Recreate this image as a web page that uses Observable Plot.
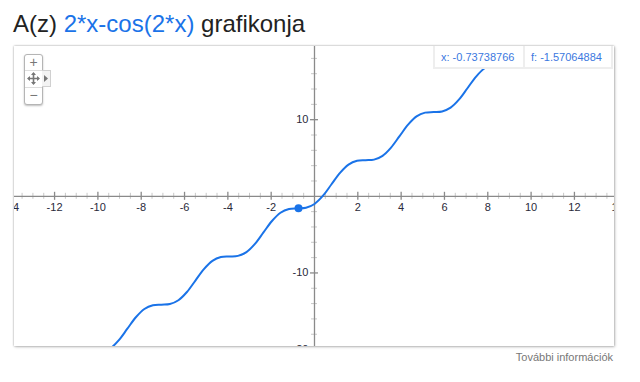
<!DOCTYPE html>
<html><head><meta charset="utf-8">
<script src="https://cdn.jsdelivr.net/npm/d3@7"></script>
<script src="https://cdn.jsdelivr.net/npm/@observablehq/plot@0.6"></script>
<style>
body{margin:0;background:#fff;font-family:Arial,"Liberation Sans",sans-serif;}
#wrap{position:relative;width:640px;height:382px;overflow:hidden;background:#fff;}
#title{position:absolute;left:13px;top:12px;font-size:24px;line-height:24px;color:#222;white-space:nowrap;}
#title .f{color:#1a73e8;}
#card{position:absolute;left:14px;top:46px;width:600px;height:300px;overflow:hidden;background:#fff;
  box-shadow:0 0 2px rgba(0,0,0,0.35),1px 1px 3px rgba(0,0,0,0.2);}
#card svg{display:block;overflow:hidden;}
#zc{position:absolute;left:10px;top:8px;width:17px;height:49px;border:1px solid #b5b5b5;border-radius:3px;background:#fff;box-shadow:0 1px 2px rgba(0,0,0,0.25);}
#zc .b{position:absolute;left:0;width:17px;text-align:center;color:#777;font-size:14px;line-height:15px;}
#zarrow{position:absolute;left:28px;top:24px;width:8px;height:15px;border:1px solid #d0d0d0;border-left:none;background:#f3f3f3;}
#tip{position:absolute;left:419px;top:0px;width:176px;height:21px;border:2px solid #eeeeee;border-top:none;background:#fff;font-size:11px;color:#3b78e0;line-height:22px;}
#tip .c{position:absolute;top:0;height:22px;white-space:nowrap;}
#more{position:absolute;right:27px;top:351px;font-size:11px;color:#777;white-space:nowrap;}
</style>
</head><body>
<div id="wrap">
  <div id="title">A(z) <span class="f">2*x-cos(2*x)</span> grafikonja</div>
  <div id="card"></div>
  <div id="more">További információk</div>
</div>
<script>
// sampled points of the plotted curve (x, f)
const xs = [-9.817,-9.425,-9.032,-8.639,-8.247,-7.854,-7.461,-7.069,-6.676,-6.283,
  -5.890,-5.498,-5.105,-4.712,-4.320,-3.927,-3.534,-3.142,-2.749,-2.356,
  -1.963,-1.571,-1.178,-0.785,-0.393,0,0.393,0.785,1.178,1.571,
  1.963,2.356,2.749,3.142,3.534,3.927,4.320,4.712,5.105,5.498,
  5.890,6.283,6.676,7.069,7.461,7.854,8.247,8.639,9.032,9.425,9.817,10.210];
const ys = [-20.342,-19.850,-18.771,-17.279,-15.786,-14.708,-14.216,-14.137,-14.059,-13.566,
  -12.488,-10.996,-9.503,-8.425,-7.932,-7.854,-7.776,-7.283,-6.205,-4.712,
  -3.220,-2.142,-1.649,-1.571,-1.493,-1.000,0.078,1.571,3.063,4.142,
  4.634,4.712,4.791,5.283,6.362,7.854,9.346,10.425,10.917,10.996,
  11.074,11.566,12.645,14.137,15.630,16.708,17.200,17.279,17.357,17.850,18.928,20.420];
// highlighted cursor point
const cursorX = [-0.73738766];
const cursorF = [-1.57064884];
// axis ticks
const xLabels = [-14,-12,-10,-8,-6,-4,-2,2,4,6,8,10,12,14];
const xMajor = [-14,-12,-10,-8,-6,-4,-2,2,4,6,8,10,12,14];
const xMinor = d3.range(-13.5, 14, 0.5).filter(v => v % 2 !== 0);
const yLabels = [-20,-10,10];
const yMajor = [-20,-10,10,20];
const yMinor = [-18,-16,-14,-12,-8,-6,-4,-2,2,4,6,8,12,14,16,18];

const curve = xs.map((x, i) => ({x, y: ys[i]}));
const cursor = cursorX.map((x, i) => ({x, y: cursorF[i]}));

const axisColor = "#8a8a8a";
const chart = Plot.plot({
  width: 600,
  height: 300,
  margin: 0,
  x: {domain: [-13.85, 13.85], axis: null},
  y: {domain: [-19.6, 19.55], axis: null},
  style: {background: "white", fontFamily: "Arial, 'Liberation Sans', sans-serif", overflow: "hidden"},
  marks: [
    Plot.ruleX(xMinor, {x: d => d, y1: 0, y2: 0, insetTop: -3, insetBottom: -3, stroke: "#c8c8c8", strokeWidth: 1}),
    Plot.ruleY(yMinor, {y: d => d, x1: 0, x2: 0, insetLeft: -3, insetRight: -3, stroke: "#c8c8c8", strokeWidth: 1}),
    Plot.ruleY([0], {stroke: axisColor, strokeWidth: 1.3}),
    Plot.ruleX([0], {stroke: axisColor, strokeWidth: 1.3}),
    Plot.ruleX(xMajor, {x: d => d, y1: 0, y2: 0, insetTop: -4, insetBottom: -4, stroke: axisColor, strokeWidth: 1.3}),
    Plot.ruleY(yMajor, {y: d => d, x1: 0, x2: 0, insetLeft: -4, insetRight: -4, stroke: axisColor, strokeWidth: 1.3}),
    Plot.text(xLabels, {x: d => d, y: 0, text: d => String(d), dy: 11, fontSize: 11, fill: "#2a2a3a", textAnchor: "middle", lineAnchor: "middle"}),
    Plot.text(yLabels, {x: 0, y: d => d, text: d => String(d), dx: -6, fontSize: 11, fill: "#2a2a3a", textAnchor: "end", lineAnchor: "middle"}),
    Plot.line(curve, {x: "x", y: "y", curve: "catmull-rom", stroke: "#1a73e8", strokeWidth: 2, clip: true}),
    Plot.dot(cursor, {x: "x", y: "y", r: 4, fill: "#1a73e8", stroke: "none"})
  ]
});
const card = document.getElementById("card");
card.appendChild(chart);

// zoom control (UI decoration)
const zc = document.createElement("div");
zc.id = "zc";
zc.innerHTML =
  '<div class="b" style="top:0;">+</div>' +
  '<div style="position:absolute;left:0;top:15px;width:17px;height:1px;background:#ddd"></div>' +
  '<svg style="position:absolute;left:2px;top:17px" width="13" height="13" viewBox="0 0 13 13">' +
  '<path d="M6.5 1 L6.5 12 M1 6.5 L12 6.5" stroke="#777" stroke-width="1.6"/>' +
  '<path d="M6.5 0 L4 3 L9 3 Z M6.5 13 L4 10 L9 10 Z M0 6.5 L3 4 L3 9 Z M13 6.5 L10 4 L10 9 Z" fill="#777"/></svg>' +
  '<div style="position:absolute;left:0;top:32px;width:17px;height:1px;background:#ddd"></div>' +
  '<div class="b" style="top:33px;">\u2212</div>';
card.appendChild(zc);
const za = document.createElement("div");
za.id = "zarrow";
za.innerHTML = '<svg style="position:absolute;left:2px;top:4px" width="5" height="7"><path d="M0 0 L4 3.5 L0 7 Z" fill="#777"/></svg>';
card.appendChild(za);

// tooltip with cursor values
const tip = document.createElement("div");
tip.id = "tip";
tip.innerHTML =
  '<div class="c" style="left:6px">x: ' + cursorX[0].toFixed(8) + '</div>' +
  '<div style="position:absolute;left:88px;top:0;width:2px;height:22px;background:#eee"></div>' +
  '<div class="c" style="left:96px">f: ' + cursorF[0].toFixed(8) + '</div>';
card.appendChild(tip);
</script>
</body></html>
